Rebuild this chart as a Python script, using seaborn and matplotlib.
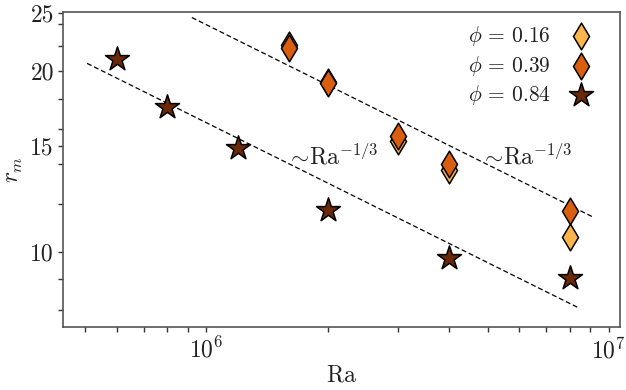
import numpy as np
import pandas as pd
import matplotlib
matplotlib.use("Agg")
import matplotlib.pyplot as plt
import seaborn as sns
from matplotlib.ticker import FixedLocator, FixedFormatter, NullFormatter

# ---- data ----
ra_016 = [1.6e6, 2e6, 3e6, 4e6, 8e6]
rm_016 = [22.1, 19.2, 15.3, 13.68, 10.6]
ra_039 = [1.6e6, 2e6, 3e6, 4e6, 8e6]
rm_039 = [21.9, 19.13, 15.63, 14.03, 11.72]
ra_084 = [6e5, 8e5, 1.2e6, 2e6, 4e6, 8e6]
rm_084 = [21.0, 17.46, 14.93, 11.75, 9.78, 9.04]
labels = [r"$\phi\,=\,0.16$", r"$\phi\,=\,0.39$", r"$\phi\,=\,0.84$"]
colors = ["#fdb44b", "#d95f0e", "#6a2a0a"]

# guide lines  r ~ C * Ra^(-1/3)
fit_upper_ra = [9.2e5, 9.2e6]
fit_upper_c = 2391.0
fit_lower_ra = [5.05e5, 8.37e6]
fit_lower_c = 1642.0

y_major = [10, 15, 20, 25]
y_major_labels = ["10", "15", "20", "25"]
y_minor = [8, 9, 12, 14, 16, 18, 22, 24]

sns.set_style("ticks")
plt.rcParams.update({
    "font.family": "serif",
    "font.serif": ["cmr10", "DejaVu Serif"],
    "mathtext.fontset": "cm",
    "axes.formatter.use_mathtext": True,
    "axes.unicode_minus": False,
})

fig = plt.figure(figsize=(6.26, 3.90), dpi=100)
ax = fig.add_axes([0.1006, 0.1615, 0.8894, 0.8075])

for ra_pts, c in [(fit_upper_ra, fit_upper_c), (fit_lower_ra, fit_lower_c)]:
    xr = np.array(ra_pts)
    ax.plot(xr, c * xr ** (-1.0 / 3.0), ls=(0, (4, 2.2)), color="black", lw=0.9, zorder=1)

df016 = pd.DataFrame({"Ra": ra_016, "rm": rm_016})
df039 = pd.DataFrame({"Ra": ra_039, "rm": rm_039})
df084 = pd.DataFrame({"Ra": ra_084, "rm": rm_084})

sns.scatterplot(data=df016, x="Ra", y="rm", marker="d", s=185, color=colors[0],
                edgecolor="black", linewidth=1.1, label=labels[0], ax=ax, zorder=3)
sns.scatterplot(data=df039, x="Ra", y="rm", marker="d", s=185, color=colors[1],
                edgecolor="black", linewidth=1.1, label=labels[1], ax=ax, zorder=4)
sns.scatterplot(data=df084, x="Ra", y="rm", marker="*", s=330, color=colors[2],
                edgecolor="black", linewidth=1.1, label=labels[2], ax=ax, zorder=5)

ax.set_xscale("log")
ax.set_yscale("log")
ax.set_xlim(4.4e5, 1.065e7)
ax.set_ylim(7.5, 25.1)

ax.yaxis.set_major_locator(FixedLocator(y_major))
ax.yaxis.set_major_formatter(FixedFormatter(y_major_labels))
ax.yaxis.set_minor_locator(FixedLocator(y_minor))
ax.yaxis.set_minor_formatter(NullFormatter())

ax.text(1.58e6, 14.0, r"$\sim\!\mathrm{Ra}^{-1/3}$", fontsize=17, va="baseline", ha="left", color="#222222")
ax.text(4.8e6, 14.0, r"$\sim\!\mathrm{Ra}^{-1/3}$", fontsize=17, va="baseline", ha="left", color="#222222")

ax.set_xlabel(r"$\mathrm{Ra}$", fontsize=17, color="#222222", labelpad=1)
ax.set_ylabel(r"$r_m$", fontsize=17, color="#222222", labelpad=4)

spine_c = "#555555"
for sp in ax.spines.values():
    sp.set_visible(True)
    sp.set_color(spine_c)
    sp.set_linewidth(1.2)
ax.tick_params(which="both", direction="out", length=3.5, width=1.0, color="#333333",
               labelsize=17, labelcolor="#222222")
ax.tick_params(axis="x", pad=4)
ax.tick_params(axis="y", pad=3)

leg = ax.legend(loc="upper right", frameon=False, markerfirst=False, fontsize=15.5,
                handletextpad=0.4, labelspacing=0.26, borderaxespad=0.15,
                bbox_to_anchor=(0.99, 1.0))
for t in leg.get_texts():
    t.set_color("#222222")

fig.savefig("out.png", dpi=100)
